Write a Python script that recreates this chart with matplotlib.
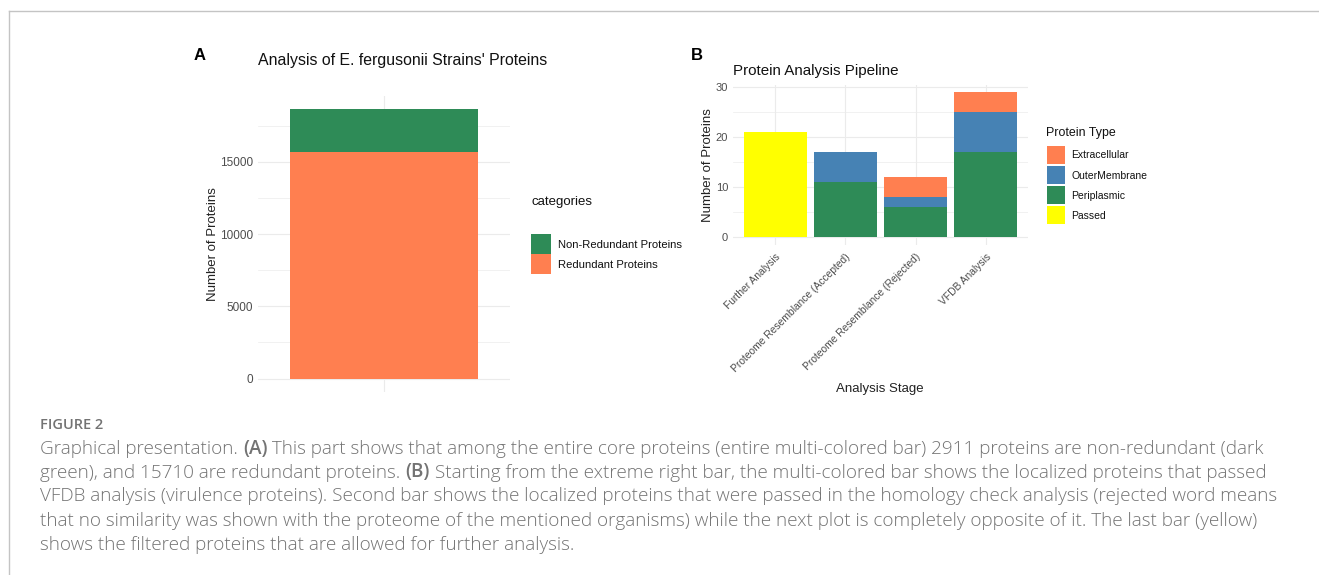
import matplotlib
matplotlib.use("Agg")
import matplotlib.pyplot as plt
from matplotlib.lines import Line2D
from matplotlib.patches import Rectangle

# Panel A: core protein redundancy
a_categories = ["Non-Redundant Proteins", "Redundant Proteins"]
a_redundant = 15710
a_non_redundant = 2911
a_ticks = [0, 5000, 10000, 15000]

# Panel B: protein analysis pipeline
b_stages = ["Further Analysis", "Proteome Resemblance (Accepted)",
            "Proteome Resemblance (Rejected)", "VFDB Analysis"]
b_types = ["Extracellular", "OuterMembrane", "Periplasmic", "Passed"]
b_passed = [21, 0, 0, 0]
b_periplasmic = [0, 11, 6, 17]
b_outer = [0, 6, 2, 8]
b_extracellular = [0, 0, 4, 4]
b_ticks = [0, 10, 20, 30]

GREEN = "#2E8B57"
ORANGE = "#FF7F50"
BLUE = "#4682B4"
YELLOW = "#FFFF00"
GRID = "#ebebeb"
TICK = "#4d4d4d"

plt.rcParams["font.family"] = ["Liberation Sans", "DejaVu Sans"]

W, H = 1319, 575
fig = plt.figure(figsize=(W / 100, H / 100), dpi=100)


def fx(px):
    return px / W


def fy(py):
    return 1 - py / H


def minimal_axes(ax, size):
    for s in ax.spines.values():
        s.set_visible(False)
    ax.tick_params(length=0, colors=TICK, labelsize=size)
    ax.set_axisbelow(True)


def key_box(x0, y0, x1, y1, color):
    # legend key drawn in pixel coordinates (y measured from the top)
    fig.add_artist(Rectangle((fx(x0), fy(y1)), fx(x1 - x0), fy(y0) - fy(y1),
                             facecolor=color, edgecolor="none",
                             transform=fig.transFigure))


# ---- panel A ----
axA = fig.add_axes([fx(258), fy(392), fx(510 - 258), fy(96) - fy(392)])
minimal_axes(axA, 8.5)
total_a = a_redundant + a_non_redundant
axA.set_ylim(-0.05 * total_a, 1.05 * total_a)
axA.set_xlim(0.4, 1.6)
for v in range(0, 20000, 2500):
    axA.axhline(v, color=GRID, lw=0.8 if v % 5000 == 0 else 0.5, zorder=0)
axA.axvline(1, color=GRID, lw=0.8, zorder=0)
axA.bar(1, a_redundant, width=0.9, color=ORANGE, edgecolor="none")
axA.bar(1, a_non_redundant, bottom=a_redundant, width=0.9, color=GREEN, edgecolor="none")
axA.set_yticks(a_ticks)
axA.set_xticks([1])
axA.set_xticklabels([""])
axA.set_ylabel("Number of Proteins", fontsize=9.5, color="#222222", labelpad=1)
fig.text(fx(258), fy(61), "Analysis of E. fergusonii Strains' Proteins",
         fontsize=11.4, va="center", ha="left", color="#111111")
fig.text(fx(194), fy(55), "A", fontsize=12, fontweight="bold", va="center")

# legend A
fig.text(fx(531), fy(202), "categories", fontsize=9.5, va="center", color="#111111")
a_colors = [GREEN, ORANGE]
for i, (lab, col) in enumerate(zip(a_categories, a_colors)):
    y0 = 234 + i * 20.3
    key_box(531, y0, 551, y0 + 19.6, col)
    fig.text(fx(558), fy(y0 + 11), lab, fontsize=8.1, va="center", color="#111111")

# ---- panel B ----
axB = fig.add_axes([fx(733), fy(244.6), fx(1028 - 733), fy(85) - fy(244.6)])
minimal_axes(axB, 8)
pos = list(range(1, len(b_stages) + 1))
tops = [p + q + r + s for p, q, r, s in zip(b_passed, b_periplasmic, b_outer, b_extracellular)]
axB.set_ylim(-0.05 * max(tops), 1.05 * max(tops))
axB.set_xlim(0.4, len(b_stages) + 0.6)
for v in range(0, 35, 5):
    axB.axhline(v, color=GRID, lw=0.8 if v % 10 == 0 else 0.5, zorder=0)
for p in pos:
    axB.axvline(p, color=GRID, lw=0.8, zorder=0)
bottom = [0] * len(pos)
for vals, col in [(b_passed, YELLOW), (b_periplasmic, GREEN),
                  (b_outer, BLUE), (b_extracellular, ORANGE)]:
    axB.bar(pos, vals, bottom=bottom, width=0.9, color=col, edgecolor="none")
    bottom = [b + v for b, v in zip(bottom, vals)]
axB.set_yticks(b_ticks)
axB.set_xticks(pos)
axB.set_xticklabels(b_stages, rotation=45, ha="right", rotation_mode="anchor", fontsize=7.4)
axB.tick_params(axis="x", pad=5)
axB.set_ylabel("Number of Proteins", fontsize=9.5, color="#222222", labelpad=1)
fig.text(fx(880), fy(389), "Analysis Stage", fontsize=9.5, ha="center", va="center", color="#222222")
fig.text(fx(733), fy(71), "Protein Analysis Pipeline", fontsize=10.9, va="center", color="#111111")
fig.text(fx(691), fy(55), "B", fontsize=12, fontweight="bold", va="center")

# legend B
fig.text(fx(1046.5), fy(133), "Protein Type", fontsize=8.9, va="center", color="#111111")
b_colors = [ORANGE, BLUE, GREEN, YELLOW]
for i, (lab, col) in enumerate(zip(b_types, b_colors)):
    y0 = 145.5 + i * 20.2
    key_box(1046.5, y0, 1064.5, y0 + 18.2, col)
    fig.text(fx(1071.5), fy(y0 + 9.8), lab, fontsize=7.5, va="center", color="#111111")

# ---- frame and caption ----
fig.add_artist(Line2D([fx(9), fx(9)], [fy(11), 0], color="#c4c4c4", lw=1))
fig.add_artist(Line2D([fx(9), 1], [fy(11), fy(11)], color="#c4c4c4", lw=1))

CAP = "#737373"
fig.text(fx(40), fy(425), "FIGURE 2", fontsize=10.5, color=CAP, va="center",
         family="Open Sans", fontweight="semibold")

caption = [
    [("Graphical presentation. ", False), ("(A)", True),
     (" This part shows that among the entire core proteins (entire multi-colored bar) "
      "2911 proteins are non-redundant (dark", False)],
    [("green), and 15710 are redundant proteins. ", False), ("(B)", True),
     (" Starting from the extreme right bar, the multi-colored bar shows the localized "
      "proteins that passed", False)],
    [("VFDB analysis (virulence proteins). Second bar shows the localized proteins that were "
      "passed in the homology check analysis (rejected word means", False)],
    [("that no similarity was shown with the proteome of the mentioned organisms) while the "
      "next plot is completely opposite of it. The last bar (yellow)", False)],
    [("shows the filtered proteins that are allowed for further analysis.", False)],
]
line_y = [449, 472.5, 496, 520.5, 545]

renderer = fig.canvas.get_renderer()
for runs, y in zip(caption, line_y):
    x = 40
    for text, bold in runs:
        t = fig.text(fx(x), fy(y), text, fontsize=13.6, color=CAP, va="center",
                     family="Open Sans", fontweight="semibold" if bold else "light")
        x += t.get_window_extent(renderer).width

fig.savefig("out.png", dpi=100)
